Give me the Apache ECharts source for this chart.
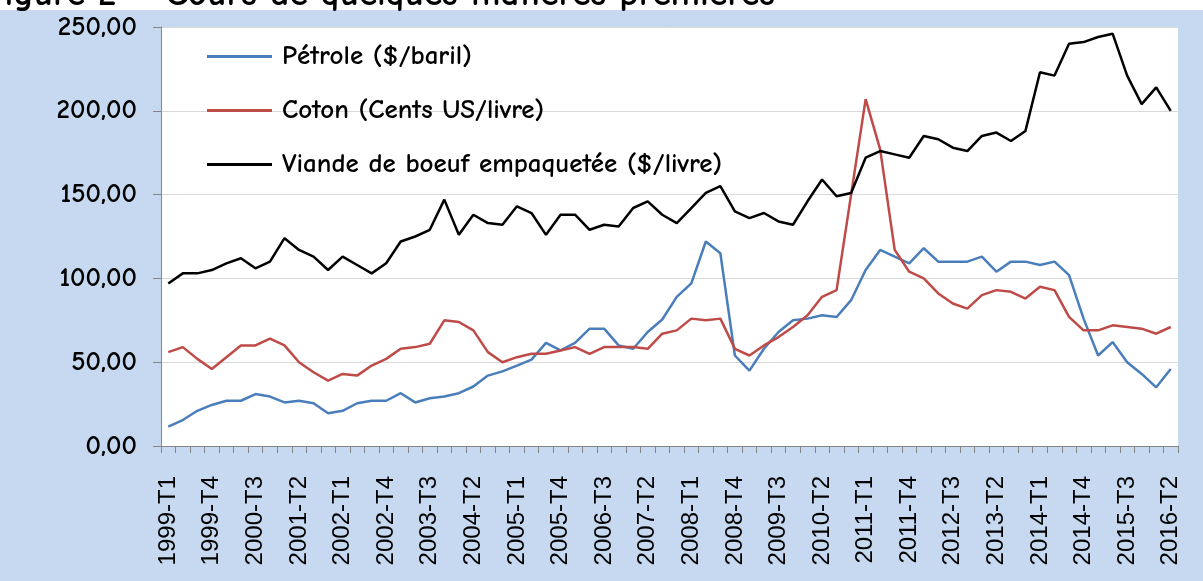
<!DOCTYPE html>
<html>
<head>
<meta charset="utf-8">
<script src="https://cdn.jsdelivr.net/npm/echarts@6/dist/echarts.min.js"></script>
<style>
  html, body { margin: 0; padding: 0; background: #fff; }
  #chart { width: 1203px; height: 581px; background: linear-gradient(#fff 0, #fff 10px, #c6d9f0 10px); }
</style>
</head>
<body>
<div id="chart"></div>
<script>
// trimestres 1999-T1 .. 2016-T2
var years = [1999, 2000, 2001, 2002, 2003, 2004, 2005, 2006, 2007, 2008, 2009, 2010, 2011, 2012, 2013, 2014, 2015, 2016];
var quarters = ['T1', 'T2', 'T3', 'T4'];
var categories = [];
years.forEach(function (y) {
    quarters.forEach(function (q) { categories.push(y + '-' + q); });
});
categories = categories.slice(0, 70);

var seriesNames = ['Pétrole ($/baril)', 'Coton (Cents US/livre)', 'Viande de boeuf empaquetée ($/livre)'];

var petrole = [11.5, 15.5, 21, 24.5, 27, 27, 31, 29.5, 26, 27,
    25.5, 19.5, 21, 25.5, 27, 27, 31.5, 26, 28.5, 29.5,
    31.5, 35.5, 42, 44.5, 48, 51.5, 61.5, 57, 61.5, 70,
    70, 60, 58, 68, 75.5, 89, 97, 122, 115, 54,
    45, 58, 68, 75, 76, 78, 77, 87, 105, 117,
    113, 109, 118, 110, 110, 110, 113, 104, 110, 110,
    108, 110, 102, 76, 54, 62, 50, 43, 35, 46];

var coton = [56, 59, 52, 46, 53, 60, 60, 64, 60, 50,
    44, 39, 43, 42, 48, 52, 58, 59, 61, 75,
    74, 69, 56, 50, 53, 55, 55, 57, 59, 55,
    59, 59, 59, 58, 67, 69, 76, 75, 76, 58,
    54, 60, 65, 71, 78, 89, 93, 150, 207, 177,
    117, 104, 100, 91, 85, 82, 90, 93, 92, 88,
    95, 93, 77, 69, 69, 72, 71, 70, 67, 71];

var viande = [97, 103, 103, 105, 109, 112, 106, 110, 124, 117,
    113, 105, 113, 108, 103, 109, 122, 125, 129, 147,
    126, 138, 133, 132, 143, 139, 126, 138, 138, 129,
    132, 131, 142, 146, 138, 133, 142, 151, 155, 140,
    136, 139, 134, 132, 146, 159, 149, 151, 172, 176,
    174, 172, 185, 183, 178, 176, 185, 187, 182, 188,
    223, 221, 240, 241, 244, 246, 221, 204, 214, 200];

var colors = ['#4a7ebb', '#be4b48', '#000000'];
var comic = "'Comic Sans MS', 'Comic Neue', 'DejaVu Sans', sans-serif";

var myChart = echarts.init(document.getElementById('chart'));

var option = {
    backgroundColor: 'transparent',
    animation: false,
    color: colors,
    title: {
        text: 'Figure 2 – Cours de quelques matières premières',
        left: -17,
        top: -24,
        padding: 0,
        textStyle: { fontFamily: comic, fontSize: 37, fontWeight: 'bold', color: '#000' }
    },
    legend: {
        orient: 'vertical',
        left: 207,
        top: 43,
        padding: 0,
        icon: 'rect',
        itemWidth: 65,
        itemHeight: 3,
        itemGap: 27,
        data: seriesNames,
        textStyle: { fontFamily: comic, fontSize: 27, fontWeight: 'bold', lineHeight: 27, color: '#000', padding: [0, 0, 0, 5] }
    },
    grid: {
        left: 161,
        right: 25,
        top: 27,
        bottom: 135,
        show: true,
        backgroundColor: '#ffffff',
        borderWidth: 0
    },
    xAxis: {
        type: 'category',
        data: categories,
        boundaryGap: true,
        axisLine: { lineStyle: { color: '#868686', width: 1 } },
        axisTick: { show: true, interval: 0, length: 7, lineStyle: { color: '#868686' } },
        axisLabel: {
            interval: 2,
            rotate: 90,
            margin: 30,
            fontFamily: "'Liberation Sans', Arial, sans-serif",
            fontSize: 24,
            color: '#000'
        },
        splitLine: { show: false }
    },
    yAxis: {
        type: 'value',
        min: 0,
        max: 250,
        interval: 50,
        axisLine: { show: true, lineStyle: { color: '#868686', width: 1 } },
        axisTick: { show: true, length: 8, lineStyle: { color: '#868686' } },
        axisLabel: {
            margin: 24,
            fontFamily: comic,
            fontSize: 27,
            fontWeight: 'bold',
            color: '#000',
            formatter: function (v) { return v.toFixed(2).replace('.', ','); }
        },
        splitLine: { lineStyle: { color: '#d9d9d9', width: 1 } }
    },
    series: [{
        name: seriesNames[0],
        type: 'line',
        data: petrole,
        symbol: 'none',
        lineStyle: { width: 2.5, color: colors[0] }
    }, {
        name: seriesNames[1],
        type: 'line',
        data: coton,
        symbol: 'none',
        lineStyle: { width: 2.5, color: colors[1] }
    }, {
        name: seriesNames[2],
        type: 'line',
        data: viande,
        symbol: 'none',
        lineStyle: { width: 2.5, color: colors[2] }
    }]
};

myChart.setOption(option);
</script>
</body>
</html>
